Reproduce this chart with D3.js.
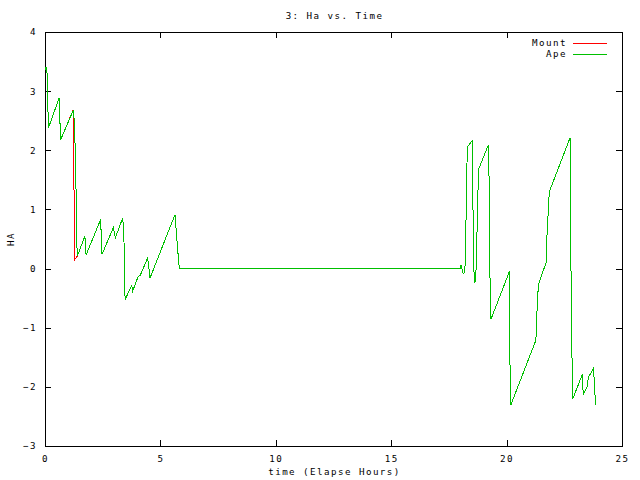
<!DOCTYPE html>
<html>
<head>
<meta charset="utf-8">
<script src="https://cdn.jsdelivr.net/npm/d3@7"></script>
<style>
  html, body { margin: 0; padding: 0; background: #fff; }
  svg text { font-family: "DejaVu Sans Mono", monospace; font-size: 9.2px; letter-spacing: 1.45px; fill: #000; }
</style>
</head>
<body>
<svg id="chart" width="640" height="480"></svg>
<script>
const title = "3: Ha vs. Time";
const xLabel = "time (Elapse Hours)";
const yLabel = "HA";
const xTicks = [0, 5, 10, 15, 20, 25];
const yTicks = [-3, -2, -1, 0, 1, 2, 3, 4];
const seriesNames = ["Mount", "Ape"];
const seriesColors = ["#ff0000", "#00c000"];

// [time (h), HA]
const mount = [
  [0, 3.36], [0.04, 3.40], [0.08, 3.40], [0.10, 3.15], [0.13, 2.65], [0.15, 2.38],
  [0.61, 2.88], [0.64, 2.55], [0.68, 2.18], [1.22, 2.68], [1.23, 2.06], [1.27, 1.00],
  [1.28, 0.15], [1.40, 0.21], [1.73, 0.55], [1.78, 0.23], [2.41, 0.83], [2.47, 0.24], [2.96, 0.69],
  [3.05, 0.52], [3.37, 0.86], [3.42, 0.51], [3.47, -0.52], [3.76, -0.29], [3.80, -0.38],
  [4.04, -0.13], [4.12, -0.12], [4.45, 0.18], [4.55, -0.16], [5.63, 0.91], [5.78, 0.17],
  [5.82, 0], [17.98, 0], [18.02, 0.06], [18.12, -0.08], [18.19, -0.07], [18.23, 0.52],
  [18.27, 1.53], [18.30, 2.06], [18.51, 2.16], [18.53, 1.56], [18.56, 0.38], [18.60, -0.24],
  [18.66, -0.21], [18.70, 0.29], [18.75, 1.19], [18.79, 1.68], [19.21, 2.09], [19.25, 1.36],
  [19.28, -0.13], [19.32, -0.86], [20.12, -0.05], [20.15, -1.73], [20.19, -2.30], [21.27, -1.21],
  [21.29, -0.97], [21.34, -0.52], [21.38, -0.27], [21.71, 0.10], [21.73, 0.41], [21.81, 1.00],
  [21.85, 1.30], [22.75, 2.21], [22.76, 1.11], [22.82, -1.11], [22.86, -2.21], [23.28, -1.79],
  [23.32, -2.13], [23.50, -1.99], [23.54, -1.84], [23.76, -1.69], [23.79, -1.84], [23.83, -2.14],
  [23.86, -2.31]
];
const ape = [
  [0, 3.36], [0.04, 3.40], [0.08, 3.40], [0.10, 3.15], [0.13, 2.65], [0.15, 2.38],
  [0.61, 2.88], [0.64, 2.55], [0.68, 2.18], [1.23, 2.68], [1.27, 2.48], [1.30, 2.12],
  [1.34, 1.50], [1.36, 0.66], [1.40, 0.21], [1.73, 0.55], [1.78, 0.23], [2.41, 0.83], [2.47, 0.24], [2.96, 0.69],
  [3.05, 0.52], [3.37, 0.86], [3.42, 0.51], [3.47, -0.52], [3.76, -0.29], [3.80, -0.38],
  [4.04, -0.13], [4.12, -0.12], [4.45, 0.18], [4.55, -0.16], [5.63, 0.91], [5.78, 0.17],
  [5.82, 0], [17.98, 0], [18.02, 0.06], [18.12, -0.08], [18.19, -0.07], [18.23, 0.52],
  [18.27, 1.53], [18.30, 2.06], [18.51, 2.16], [18.53, 1.56], [18.56, 0.38], [18.60, -0.24],
  [18.66, -0.21], [18.70, 0.29], [18.75, 1.19], [18.79, 1.68], [19.21, 2.09], [19.25, 1.36],
  [19.28, -0.13], [19.32, -0.86], [20.12, -0.05], [20.15, -1.73], [20.19, -2.30], [21.27, -1.21],
  [21.29, -0.97], [21.34, -0.52], [21.38, -0.27], [21.71, 0.10], [21.73, 0.41], [21.81, 1.00],
  [21.85, 1.30], [22.75, 2.21], [22.76, 1.11], [22.82, -1.11], [22.86, -2.21], [23.28, -1.79],
  [23.32, -2.13], [23.50, -1.99], [23.54, -1.84], [23.76, -1.69], [23.79, -1.84], [23.83, -2.14],
  [23.86, -2.31]
];
const series = [mount, ape];

const svg = d3.select("#chart");
const L = 45, R = 622, T = 32, B = 446;
const x = d3.scaleLinear().domain([0, 25]).range([L, R]);
const y = d3.scaleLinear().domain([-3, 4]).range([B, T]);
const tick = 6;

function styleAxis(g) {
  g.select(".domain").remove();
  g.selectAll("line").attr("stroke", "#000").attr("shape-rendering", "crispEdges");
  g.selectAll("text").attr("fill", "#000").attr("font-family", null).attr("font-size", null);
}

svg.append("g").attr("transform", `translate(0,${B})`)
  .call(d3.axisBottom(x).tickValues(xTicks).tickFormat(d3.format("d")).tickSizeInner(-tick).tickSizeOuter(0).tickPadding(9))
  .call(styleAxis);
svg.append("g").attr("transform", `translate(0,${T})`)
  .call(d3.axisTop(x).tickValues(xTicks.slice(1, -1)).tickFormat("").tickSizeInner(-tick).tickSizeOuter(0))
  .call(styleAxis);
svg.append("g").attr("transform", `translate(${L},0)`)
  .call(d3.axisLeft(y).tickValues(yTicks).tickFormat(d3.format("d")).tickSizeInner(-tick).tickSizeOuter(0).tickPadding(8))
  .call(styleAxis);
svg.append("g").attr("transform", `translate(${R},0)`)
  .call(d3.axisRight(y).tickValues(yTicks.slice(1, -1)).tickFormat("").tickSizeInner(-tick).tickSizeOuter(0))
  .call(styleAxis);

svg.append("rect").attr("x", L).attr("y", T).attr("width", R - L).attr("height", B - T)
  .attr("fill", "none").attr("stroke", "#000").attr("shape-rendering", "crispEdges");

const line = d3.line().x(d => x(d[0])).y(d => y(d[1]));
series.forEach((s, i) => {
  svg.append("path").datum(s).attr("d", line)
    .attr("fill", "none").attr("stroke", seriesColors[i]).attr("stroke-width", 1)
    .attr("shape-rendering", "crispEdges");
});

// legend
seriesNames.forEach((name, i) => {
  const ly = 43 + i * 11;
  svg.append("text").attr("x", 567).attr("y", ly).attr("dy", "0.35em").attr("text-anchor", "end").text(name);
  svg.append("line").attr("x1", 573).attr("x2", 607).attr("y1", ly).attr("y2", ly)
    .attr("stroke", seriesColors[i]).attr("shape-rendering", "crispEdges");
});

svg.append("text").attr("x", (L + R) / 2 + 1).attr("y", 16).attr("dy", "0.35em").attr("text-anchor", "middle").text(title);
svg.append("text").attr("x", (L + R) / 2 + 1).attr("y", 472).attr("dy", "0.35em").attr("text-anchor", "middle").text(xLabel);
svg.append("text").attr("transform", `translate(11,${(T + B) / 2}) rotate(-90)`).attr("dy", "0.35em").attr("text-anchor", "middle").text(yLabel);
</script>
</body>
</html>
